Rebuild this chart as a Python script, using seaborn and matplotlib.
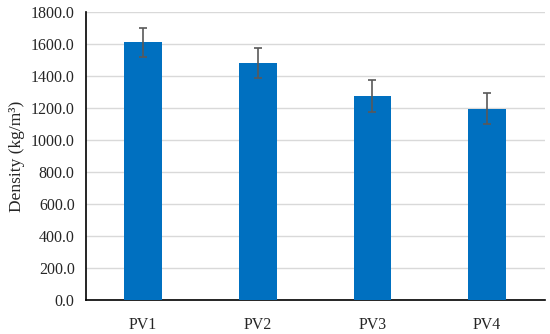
# Density bar chart with error bars

import numpy as np
import pandas as pd
import seaborn as sns
import matplotlib.pyplot as plt
from matplotlib.ticker import FormatStrFormatter

# data
amostras = ['PV1', 'PV2', 'PV3', 'PV4']
densidade = [1610, 1482, 1275, 1195]
desvio = [93, 95, 98, 96]

sns.set_style("white")
plt.rcParams['font.family'] = ['Liberation Serif', 'DejaVu Serif']

dados = pd.DataFrame({'amostra': amostras, 'densidade': densidade})

f, ax = plt.subplots(figsize=(5.5, 3.34), dpi=100)

sns.barplot(x='amostra', y='densidade', data=dados, color='#0070C0',
            width=0.33, errorbar=None, ax=ax, zorder=3, saturation=1,
            linewidth=0)

ax.errorbar(np.arange(len(amostras)), densidade, yerr=desvio, fmt='none',
            ecolor='#595959', elinewidth=1.2, capsize=3, capthick=1.2, zorder=4)

ax.set_ylim(0, 1800)
ax.set_yticks(np.arange(0, 1801, 200))
ax.yaxis.set_major_formatter(FormatStrFormatter('%.1f'))
ax.set_xlim(-0.5, 3.5)
ax.grid(axis='y', color='#D9D9D9', linewidth=1, zorder=0)

for lado in ['top', 'right']:
    ax.spines[lado].set_visible(False)
ax.spines['left'].set_color('black')
ax.spines['bottom'].set_color('black')
ax.spines['left'].set_linewidth(1.2)
ax.spines['bottom'].set_linewidth(1.2)
ax.tick_params(axis='both', length=0, labelsize=11.5, pad=8)
ax.tick_params(axis='x', pad=12)

ax.set_xlabel('')
ax.set_ylabel('Density (kg/m³)', size=12.5)

f.subplots_adjust(left=0.156, right=0.99, top=0.964, bottom=0.102)
f.savefig('out.png', dpi=100)
